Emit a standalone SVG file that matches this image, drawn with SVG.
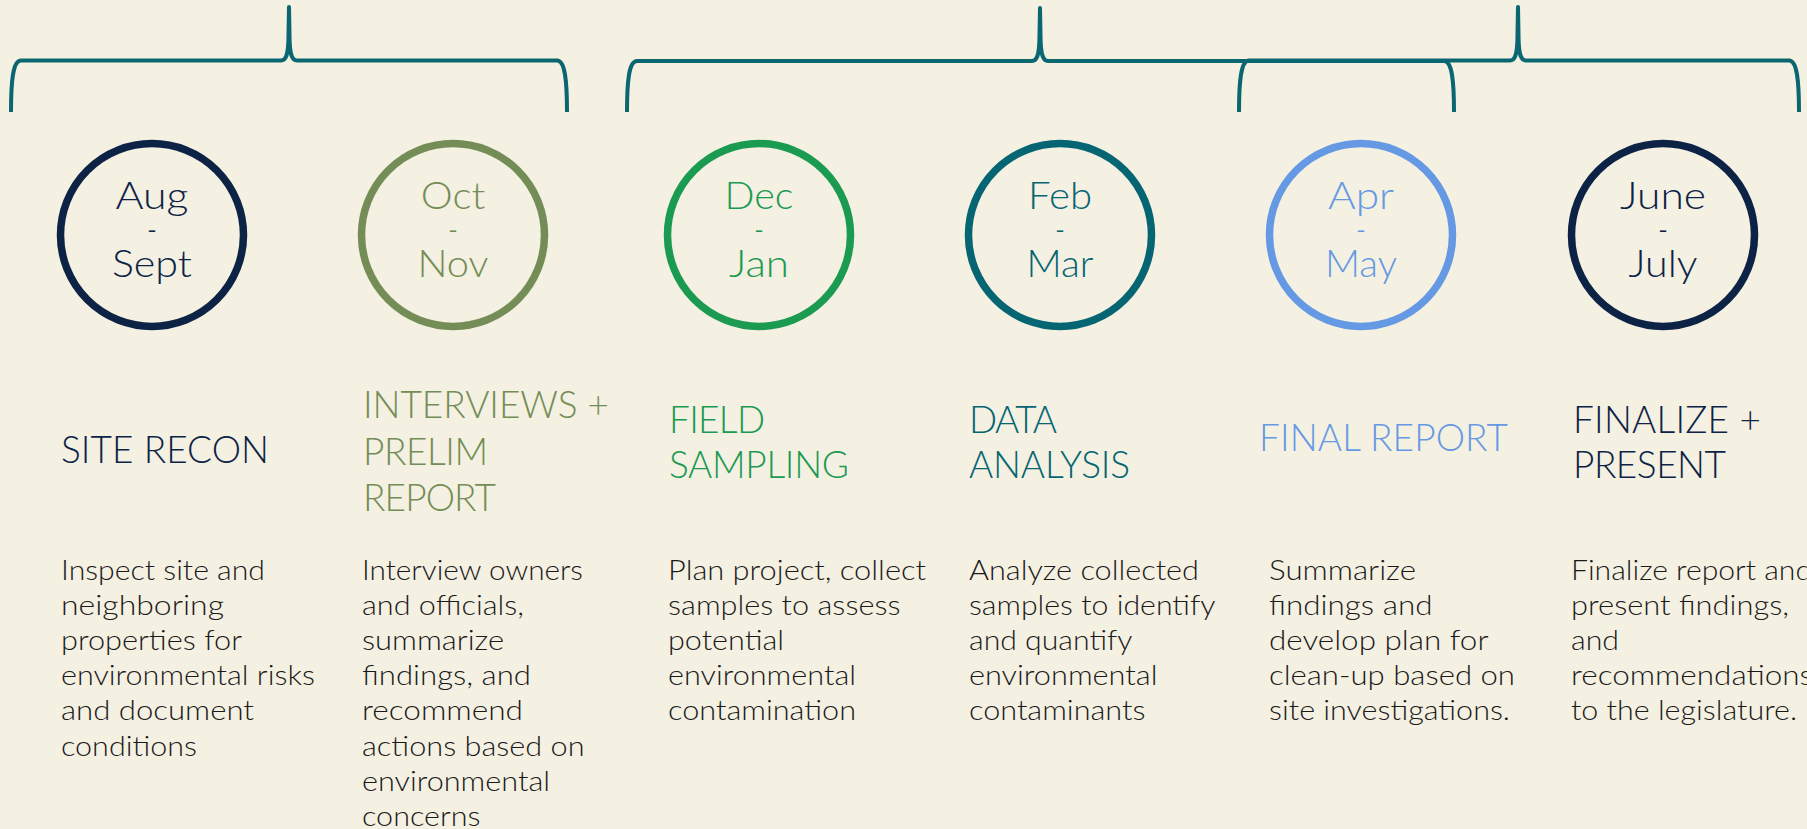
<svg xmlns="http://www.w3.org/2000/svg" width="1807" height="829" viewBox="0 0 1807 829">
<style>
.bg{fill:#f4f0e2}
.brace{fill:none;stroke:#0a6771;stroke-width:4;stroke-linejoin:round}
.ring{fill:none;stroke-width:7.5}
.date{font-family:Lato,"Liberation Sans",sans-serif;font-weight:300;font-size:38px;text-anchor:middle}
.dash{font-family:Lato,"Liberation Sans",sans-serif;font-weight:700;font-size:16px;text-anchor:middle}
.title{font-family:Lato,"Liberation Sans",sans-serif;font-weight:300;font-size:37px}
.body{font-family:Lato,"Liberation Sans",sans-serif;font-weight:300;font-size:26.5px;fill:#1a1a1a}
.navy{fill:#0d2346}.s-navy{stroke:#0d2346}
.olive{fill:#748d56}.s-olive{stroke:#748d56}
.green{fill:#1b9a52}.s-green{stroke:#1b9a52}
.teal{fill:#056572}.s-teal{stroke:#056572}
.blue{fill:#6699e4}.s-blue{stroke:#6699e4}
</style>
<rect class="bg" x="0" y="0" width="1807" height="829"/>
<g id="connectors">
<path class="brace" d="M11 112 C11 80 13 60.5 21 60.5 L281 60.5 C286 60.5 288 55 288.4 40 L289 7 L289.6 40 C290 55 292 60.5 297 60.5 L557 60.5 C565 60.5 567 80 567 112"/>
<path class="brace" d="M627 112 C627 80 629 61 637 61 L1032 61 C1037 61 1039 55 1039.4 40 L1040 8 L1040.6 40 C1041 55 1043 61 1048 61 L1444 61 C1452 61 1454 80 1454 112"/>
<path class="brace" d="M1239 112 C1239 80 1241 60.5 1249 60.5 L1510 60.5 C1515 60.5 1517 55 1517.4 40 L1518 7 L1518.6 40 C1519 55 1521 60.5 1526 60.5 L1789 60.5 C1797 60.5 1799 80 1799 112"/>
</g>
<g id="site-recon">
<circle class="ring s-navy" cx="152" cy="235" r="91.5"/>
<text class="date navy"><tspan x="152" y="209" textLength="73" lengthAdjust="spacingAndGlyphs">Aug</tspan><tspan x="152" y="277" textLength="80" lengthAdjust="spacingAndGlyphs">Sept</tspan></text>
<text class="dash navy" x="152" y="236" textLength="9" lengthAdjust="spacingAndGlyphs">-</text>
<text class="title navy" x="61" y="463" textLength="208">SITE RECON</text>
<text class="body"><tspan x="61" y="580" textLength="204" lengthAdjust="spacingAndGlyphs">Inspect site and</tspan><tspan x="61" y="615.1" textLength="163" lengthAdjust="spacingAndGlyphs">neighboring</tspan><tspan x="61" y="650.2" textLength="181" lengthAdjust="spacingAndGlyphs">properties for</tspan><tspan x="61" y="685.3" textLength="254" lengthAdjust="spacingAndGlyphs">environmental risks</tspan><tspan x="61" y="720.4" textLength="193" lengthAdjust="spacingAndGlyphs">and document</tspan><tspan x="61" y="755.5" textLength="136" lengthAdjust="spacingAndGlyphs">conditions</tspan></text>
</g>
<g id="interviews">
<circle class="ring s-olive" cx="453" cy="235" r="91.5"/>
<text class="date olive"><tspan x="453" y="209" textLength="64.5" lengthAdjust="spacingAndGlyphs">Oct</tspan><tspan x="453" y="277" textLength="71" lengthAdjust="spacingAndGlyphs">Nov</tspan></text>
<text class="dash olive" x="453" y="236" textLength="9" lengthAdjust="spacingAndGlyphs">-</text>
<text class="title olive"><tspan x="363" y="418" textLength="246">INTERVIEWS +</tspan><tspan x="363" y="464.5" textLength="125">PRELIM</tspan><tspan x="363" y="511" textLength="133">REPORT</tspan></text>
<text class="body"><tspan x="362" y="580" textLength="221" lengthAdjust="spacingAndGlyphs">Interview owners</tspan><tspan x="362" y="615.1" textLength="162" lengthAdjust="spacingAndGlyphs">and officials,</tspan><tspan x="362" y="650.2" textLength="142" lengthAdjust="spacingAndGlyphs">summarize</tspan><tspan x="362" y="685.3" textLength="169" lengthAdjust="spacingAndGlyphs">findings, and</tspan><tspan x="362" y="720.4" textLength="161" lengthAdjust="spacingAndGlyphs">recommend</tspan><tspan x="362" y="755.5" textLength="222.5" lengthAdjust="spacingAndGlyphs">actions based on</tspan><tspan x="362" y="790.6" textLength="188" lengthAdjust="spacingAndGlyphs">environmental</tspan><tspan x="362" y="825.7" textLength="118.5" lengthAdjust="spacingAndGlyphs">concerns</tspan></text>
</g>
<g id="field-sampling">
<circle class="ring s-green" cx="759" cy="235" r="91.5"/>
<text class="date green"><tspan x="759" y="209" textLength="69" lengthAdjust="spacingAndGlyphs">Dec</tspan><tspan x="759" y="277" textLength="60" lengthAdjust="spacingAndGlyphs">Jan</tspan></text>
<text class="dash green" x="759" y="236" textLength="9" lengthAdjust="spacingAndGlyphs">-</text>
<text class="title green"><tspan x="669" y="433" textLength="96">FIELD</tspan><tspan x="669" y="478" textLength="180">SAMPLING</tspan></text>
<text class="body"><tspan x="668" y="580" textLength="258" lengthAdjust="spacingAndGlyphs">Plan project, collect</tspan><tspan x="668" y="615.1" textLength="232.5" lengthAdjust="spacingAndGlyphs">samples to assess</tspan><tspan x="668" y="650.2" textLength="116" lengthAdjust="spacingAndGlyphs">potential</tspan><tspan x="668" y="685.3" textLength="188" lengthAdjust="spacingAndGlyphs">environmental</tspan><tspan x="668" y="720.4" textLength="188" lengthAdjust="spacingAndGlyphs">contamination</tspan></text>
</g>
<g id="data-analysis">
<circle class="ring s-teal" cx="1060" cy="235" r="91.5"/>
<text class="date teal"><tspan x="1060" y="209" textLength="64" lengthAdjust="spacingAndGlyphs">Feb</tspan><tspan x="1060" y="277" textLength="67" lengthAdjust="spacingAndGlyphs">Mar</tspan></text>
<text class="dash teal" x="1060" y="236" textLength="9" lengthAdjust="spacingAndGlyphs">-</text>
<text class="title teal"><tspan x="969" y="433" textLength="88">DATA</tspan><tspan x="969" y="478" textLength="161">ANALYSIS</tspan></text>
<text class="body"><tspan x="969" y="580" textLength="230" lengthAdjust="spacingAndGlyphs">Analyze collected</tspan><tspan x="969" y="615.1" textLength="246.5" lengthAdjust="spacingAndGlyphs">samples to identify</tspan><tspan x="969" y="650.2" textLength="163.5" lengthAdjust="spacingAndGlyphs">and quantify</tspan><tspan x="969" y="685.3" textLength="188.5" lengthAdjust="spacingAndGlyphs">environmental</tspan><tspan x="969" y="720.4" textLength="176.5" lengthAdjust="spacingAndGlyphs">contaminants</tspan></text>
</g>
<g id="final-report">
<circle class="ring s-blue" cx="1361" cy="235" r="91.5"/>
<text class="date blue"><tspan x="1361" y="209" textLength="66" lengthAdjust="spacingAndGlyphs">Apr</tspan><tspan x="1361" y="277" textLength="72" lengthAdjust="spacingAndGlyphs">May</tspan></text>
<text class="dash blue" x="1361" y="236" textLength="9" lengthAdjust="spacingAndGlyphs">-</text>
<text class="title blue" x="1259" y="451" textLength="249">FINAL REPORT</text>
<text class="body"><tspan x="1269" y="580" textLength="147" lengthAdjust="spacingAndGlyphs">Summarize</tspan><tspan x="1269" y="615.1" textLength="163.5" lengthAdjust="spacingAndGlyphs">findings and</tspan><tspan x="1269" y="650.2" textLength="219.5" lengthAdjust="spacingAndGlyphs">develop plan for</tspan><tspan x="1269" y="685.3" textLength="246" lengthAdjust="spacingAndGlyphs">clean-up based on</tspan><tspan x="1269" y="720.4" textLength="241" lengthAdjust="spacingAndGlyphs">site investigations.</tspan></text>
</g>
<g id="finalize-present">
<circle class="ring s-navy" cx="1663" cy="235" r="91.5"/>
<text class="date navy"><tspan x="1663" y="209" textLength="86" lengthAdjust="spacingAndGlyphs">June</tspan><tspan x="1663" y="277" textLength="69" lengthAdjust="spacingAndGlyphs">July</tspan></text>
<text class="dash navy" x="1663" y="236" textLength="9" lengthAdjust="spacingAndGlyphs">-</text>
<text class="title navy"><tspan x="1573" y="433" textLength="188">FINALIZE +</tspan><tspan x="1573" y="478" textLength="153">PRESENT</tspan></text>
<text class="body"><tspan x="1571" y="580" textLength="241" lengthAdjust="spacingAndGlyphs">Finalize report and</tspan><tspan x="1571" y="615.1" textLength="218" lengthAdjust="spacingAndGlyphs">present findings,</tspan><tspan x="1571" y="650.2" textLength="48" lengthAdjust="spacingAndGlyphs">and</tspan><tspan x="1571" y="685.3" textLength="242" lengthAdjust="spacingAndGlyphs">recommendations</tspan><tspan x="1571" y="720.4" textLength="226" lengthAdjust="spacingAndGlyphs">to the legislature.</tspan></text>
</g>
</svg>
